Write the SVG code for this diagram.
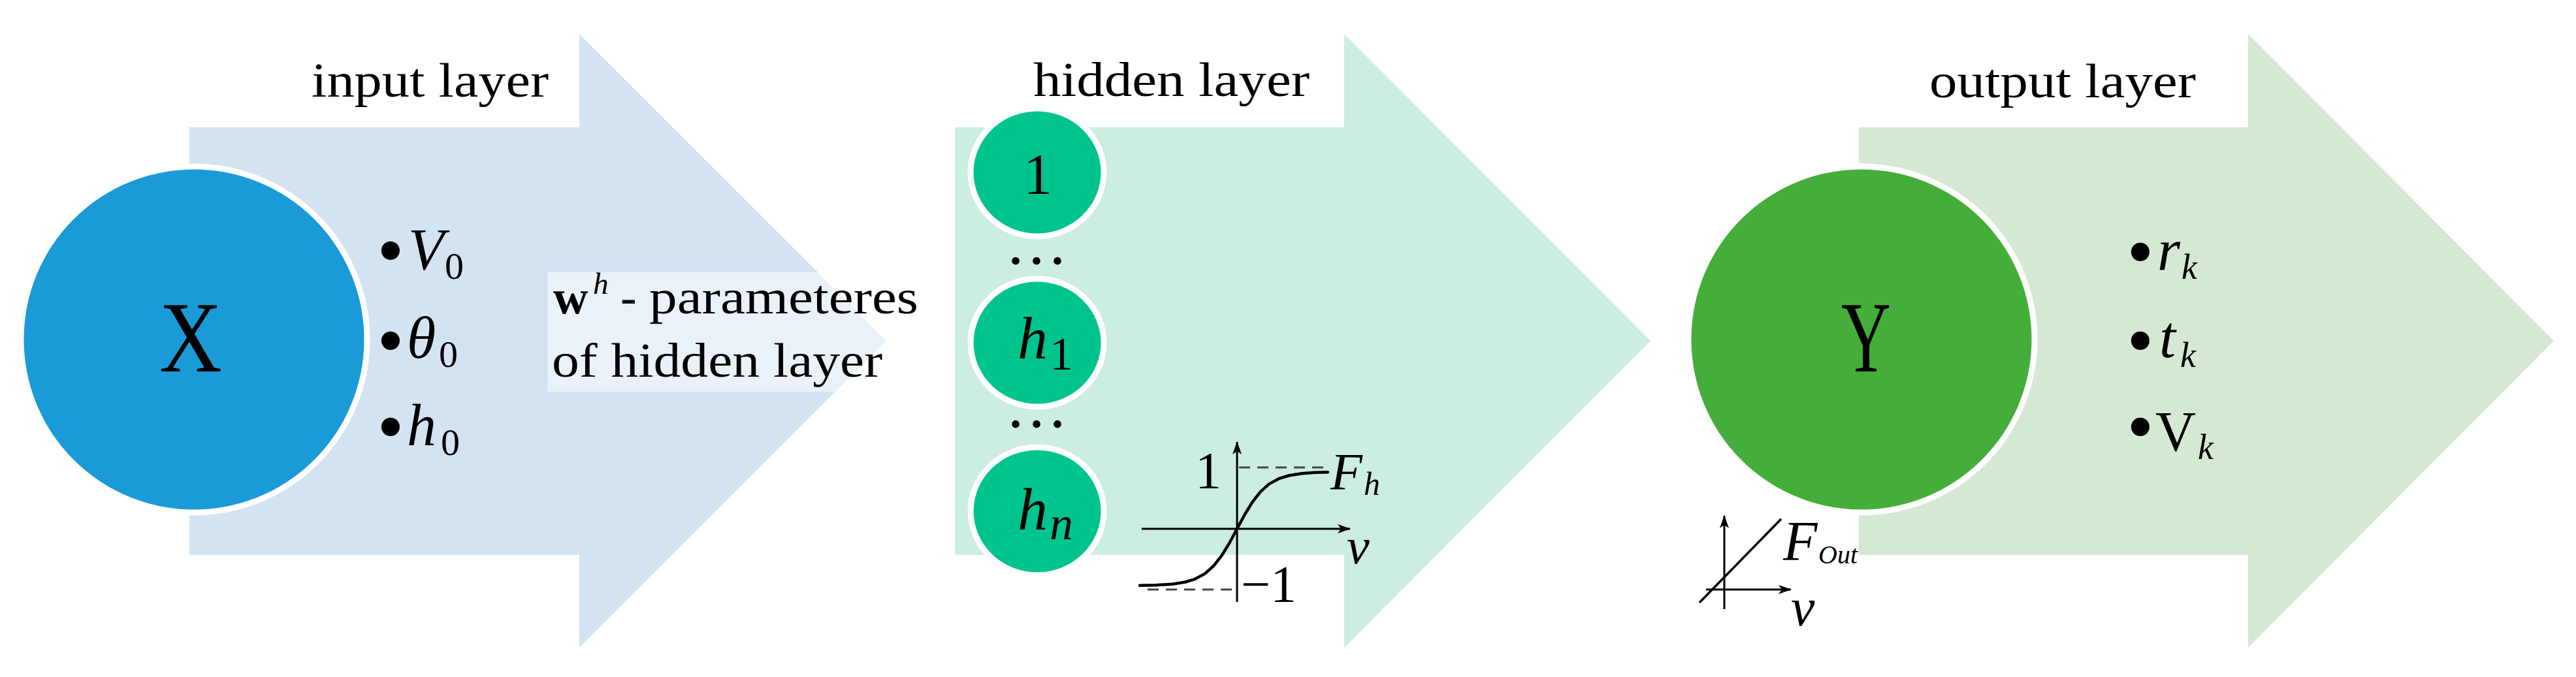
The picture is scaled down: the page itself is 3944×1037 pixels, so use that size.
<svg xmlns="http://www.w3.org/2000/svg" width="3944" height="1037" viewBox="0 0 3944 1037">
<style>
.t{font-family:"Liberation Serif","Times New Roman",serif;fill:#000}
.i{font-style:italic}
.b{font-weight:bold}
.dots{font-size:72px;letter-spacing:14px;font-weight:bold}
.ax{stroke:#000;stroke-width:3;fill:none}
.dash{stroke:#444;stroke-width:3;stroke-dasharray:17 11;fill:none}
.curve{stroke:#000;stroke-width:4.5;fill:none;stroke-linejoin:round;stroke-linecap:round}
.ring{stroke:#fff;stroke-width:9}
</style>
<defs>
<marker id="ah" viewBox="0 0 20 14" refX="19" refY="7" markerWidth="20" markerHeight="14" markerUnits="userSpaceOnUse" orient="auto">
<path d="M0,0 L20,7 L0,14 L5,7 Z" fill="#000"/>
</marker>
</defs>
<rect width="3944" height="1037" fill="#fff"/>

<g id="connectors">
<path id="arrow-input" d="M290,195 H887 V52 L1357,522 L887,992 V850 H290 Z" fill="#d3e3f2"/>
<path id="arrow-hidden" d="M1462,195 H2058 V52 L2527,522 L2058,992 V850 H1462 Z" fill="#ccede1"/>
<path id="arrow-output" d="M2846,195 H3442 V52 L3910,522 L3442,992 V850 H2846 Z" fill="#d5e8d4"/>
</g>

<g id="input-layer">
<text class="t" x="477" y="148" font-size="74" textLength="363" lengthAdjust="spacingAndGlyphs">input layer</text>
<circle cx="297" cy="520" r="265" fill="#1a9bd7" class="ring"/>
<text class="t" x="292" y="569" font-size="155" text-anchor="middle" textLength="96" lengthAdjust="spacingAndGlyphs">X</text>
<text class="t" x="598" y="423" font-size="118" text-anchor="middle">•</text>
<text class="t i" x="625" y="413" font-size="90">V</text>
<text class="t" x="681" y="427" font-size="58">0</text>
<text class="t" x="598" y="561" font-size="118" text-anchor="middle">•</text>
<text class="t i" x="623" y="548" font-size="90">θ</text>
<text class="t" x="672" y="562" font-size="58">0</text>
<text class="t" x="598" y="693" font-size="118" text-anchor="middle">•</text>
<text class="t i" x="623" y="682" font-size="90">h</text>
<text class="t" x="675" y="697" font-size="58">0</text>
</g>

<g id="weights-label">
<rect x="838" y="417" width="572" height="183" fill="#fff" fill-opacity="0.5"/>
<text class="t b" x="847" y="480" font-size="74">w</text>
<text class="t i" x="908" y="450" font-size="47">h</text>
<text class="t" x="950" y="480" font-size="74">-</text>
<text class="t" x="994" y="480" font-size="74" textLength="412" lengthAdjust="spacingAndGlyphs">parameteres</text>
<text class="t" x="845" y="577" font-size="74" textLength="506" lengthAdjust="spacingAndGlyphs">of hidden layer</text>
</g>

<g id="hidden-layer">
<text class="t" x="1582" y="147" font-size="74" textLength="423" lengthAdjust="spacingAndGlyphs">hidden layer</text>
<g id="neuron-1">
<ellipse cx="1588" cy="264" rx="102" ry="98" fill="#00c48e" class="ring"/>
<text class="t" x="1589" y="296" font-size="88" text-anchor="middle">1</text>
</g>
<text class="t dots" x="1546" y="405">...</text>
<g id="neuron-h1">
<ellipse cx="1588" cy="525" rx="102" ry="98" fill="#00c48e" class="ring"/>
<text class="t i" x="1558" y="549" font-size="92">h</text>
<text class="t" x="1607" y="566" font-size="72">1</text>
</g>
<text class="t dots" x="1546" y="655">...</text>
<g id="neuron-hn">
<ellipse cx="1588" cy="783" rx="102" ry="98" fill="#00c48e" class="ring"/>
<text class="t i" x="1558" y="811" font-size="92">h</text>
<text class="t i" x="1607" y="826" font-size="72">n</text>
</g>
<g id="sigmoid-graph">
<line class="dash" x1="1897" y1="716" x2="2032" y2="716"/>
<line class="dash" x1="1757" y1="903" x2="1893" y2="903"/>
<line class="ax" x1="1894" y1="922" x2="1894" y2="677" marker-end="url(#ah)"/>
<line class="ax" x1="1748" y1="810" x2="2067" y2="810" marker-end="url(#ah)"/>
<path class="curve" d="M1745,896.7 L1770,896.2 L1795,894.7 L1815,891.5 L1830,886.8 L1845,878.6 L1858,866.9 L1870,851.7 L1882,832.2 L1894,810 L1906,787.8 L1918,768.3 L1930,753.1 L1943,741.4 L1958,733.2 L1973,728.5 L1993,725.3 L2013,723.8 L2033,723.3"/>
<text class="t" x="1870" y="748" font-size="80" text-anchor="end">1</text>
<text class="t i" x="2037" y="750" font-size="80">F</text>
<text class="t i" x="2088" y="758" font-size="50">h</text>
<text class="t i" x="2062" y="863" font-size="78">v</text>
<text class="t" x="1900" y="922" font-size="80">−1</text>
</g>
</g>

<g id="output-layer">
<text class="t" x="2954" y="149" font-size="74" textLength="408" lengthAdjust="spacingAndGlyphs">output layer</text>
<circle cx="2850" cy="520" r="265" fill="#45ae3a" class="ring"/>
<text class="t" x="2857" y="569" font-size="155" text-anchor="middle" textLength="76" lengthAdjust="spacingAndGlyphs">Y</text>
<text class="t" x="3277" y="425" font-size="118" text-anchor="middle">•</text>
<text class="t i" x="3303" y="413" font-size="90">r</text>
<text class="t i" x="3340" y="427" font-size="54">k</text>
<text class="t" x="3277" y="561" font-size="118" text-anchor="middle">•</text>
<text class="t i" x="3306" y="547" font-size="90">t</text>
<text class="t i" x="3338" y="562" font-size="54">k</text>
<text class="t" x="3277" y="693" font-size="118" text-anchor="middle">•</text>
<text class="t" x="3300" y="690" font-size="86">V</text>
<text class="t i" x="3365" y="703" font-size="54">k</text>
<g id="linear-graph">
<line class="ax" x1="2640" y1="933" x2="2640" y2="790" marker-end="url(#ah)"/>
<line class="ax" x1="2612" y1="903" x2="2742" y2="903" marker-end="url(#ah)"/>
<line class="ax" x1="2602" y1="923" x2="2727" y2="795" style="stroke-width:3.5"/>
<text class="t i" x="2730" y="858" font-size="86">F</text>
<text class="t i" x="2784" y="863" font-size="40">Out</text>
<text class="t i" x="2742" y="958" font-size="82">v</text>
</g>
</g>
</svg>
